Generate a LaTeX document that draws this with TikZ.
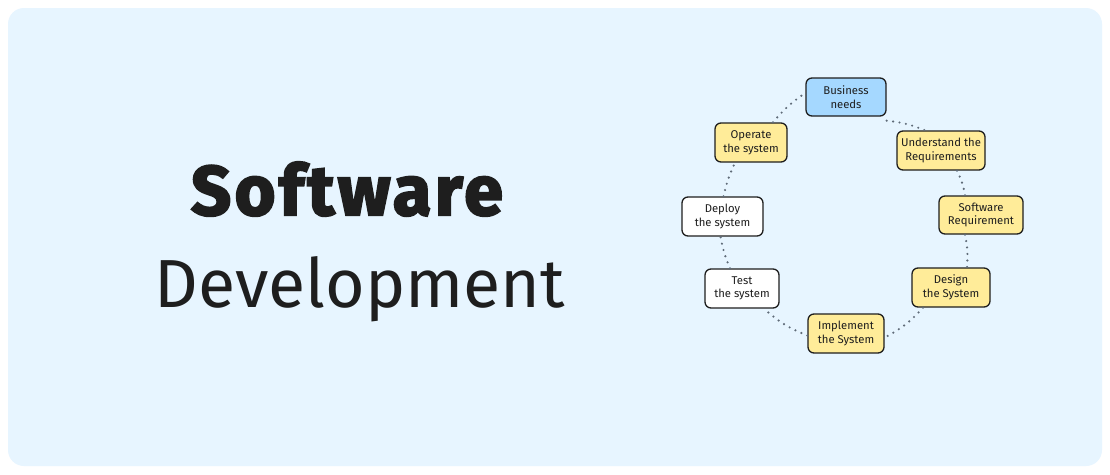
\documentclass[tikz,border=0pt]{standalone}
\usepackage{fontspec}
\setmainfont{Fira Sans}
\newfontfamily\titleheavy{Fira Sans}[FakeBold=3,LetterSpace=5]
\definecolor{bgblue}{HTML}{E7F5FF}
\definecolor{nodeblue}{HTML}{A5D8FF}
\definecolor{nodeyellow}{HTML}{FFEC99}
\definecolor{inkc}{HTML}{1E1E1E}
\definecolor{dotc}{HTML}{5F6B78}
\begin{document}
\begin{tikzpicture}[x=1pt,y=-1pt,
  stagebox/.style={draw=inkc, line width=1.3pt, rounded corners=6pt, align=center,
    font=\fontsize{11.3}{13.5}\selectfont, text=inkc, inner sep=0pt},
  link/.style={draw=dotc, line width=2.4pt, dash pattern=on 0pt off 6.5pt, line cap=round}]
\useasboundingbox (0,0) rectangle (1110,474);
\fill[white] (0,0) rectangle (1110,474);
\fill[bgblue, rounded corners=16pt] (8,8) rectangle (1102,466);

\node[anchor=base, text=inkc, font=\titleheavy\bfseries\fontsize{70}{74}\selectfont] (t1) at (347,215) {Software};
\node[anchor=base, text=inkc, font=\fontsize{68}{72}\selectfont] (t2) at (360,307) {Development};

\node[stagebox, fill=nodeblue, minimum width=80pt, minimum height=38pt] (bn) at (846,97) {Business\\needs};
\node[stagebox, fill=nodeyellow, minimum width=88pt, minimum height=39pt] (ur) at (941,150.5) {Understand the\\Requirements};
\node[stagebox, fill=nodeyellow, minimum width=84pt, minimum height=38pt] (sr) at (981,215) {Software\\Requirement};
\node[stagebox, fill=nodeyellow, minimum width=78pt, minimum height=39pt] (ds) at (951,287.5) {Design\\the System};
\node[stagebox, fill=nodeyellow, minimum width=76pt, minimum height=39pt] (is) at (846,333.5) {Implement\\the System};
\node[stagebox, fill=white, minimum width=74pt, minimum height=39pt] (ts) at (742,288.5) {Test\\the system};
\node[stagebox, fill=white, minimum width=81pt, minimum height=39pt] (dp) at (722.5,216.5) {Deploy\\the system};
\node[stagebox, fill=nodeyellow, minimum width=72pt, minimum height=39pt] (op) at (751,142.5) {Operate\\the system};

\draw[link] ([yshift=-4pt]bn.south east) to[bend left=8] ([xshift=-16pt]ur.north);
\draw[link] ([xshift=16pt]ur.south) to[bend left=8] ([xshift=-16pt]sr.north);
\draw[link] ([xshift=-16pt]sr.south) to[bend left=8] ([xshift=16pt]ds.north);
\draw[link] ([xshift=-28pt]ds.south) to[bend left=10] ([yshift=-4pt]is.east);
\draw[link] ([yshift=-2pt]is.west) to[bend left=10] ([xshift=22pt]ts.north |- ts.south);
\draw[link] ([xshift=-12pt]ts.north) to[bend left=6] ([xshift=-2pt]dp.south);
\draw[link] ([xshift=1pt]dp.north) to[bend left=6] ([xshift=-16pt]op.south);
\draw[link] ([xshift=22pt]op.north) to[bend left=8] ([yshift=4pt]bn.west);
\end{tikzpicture}
\end{document}
